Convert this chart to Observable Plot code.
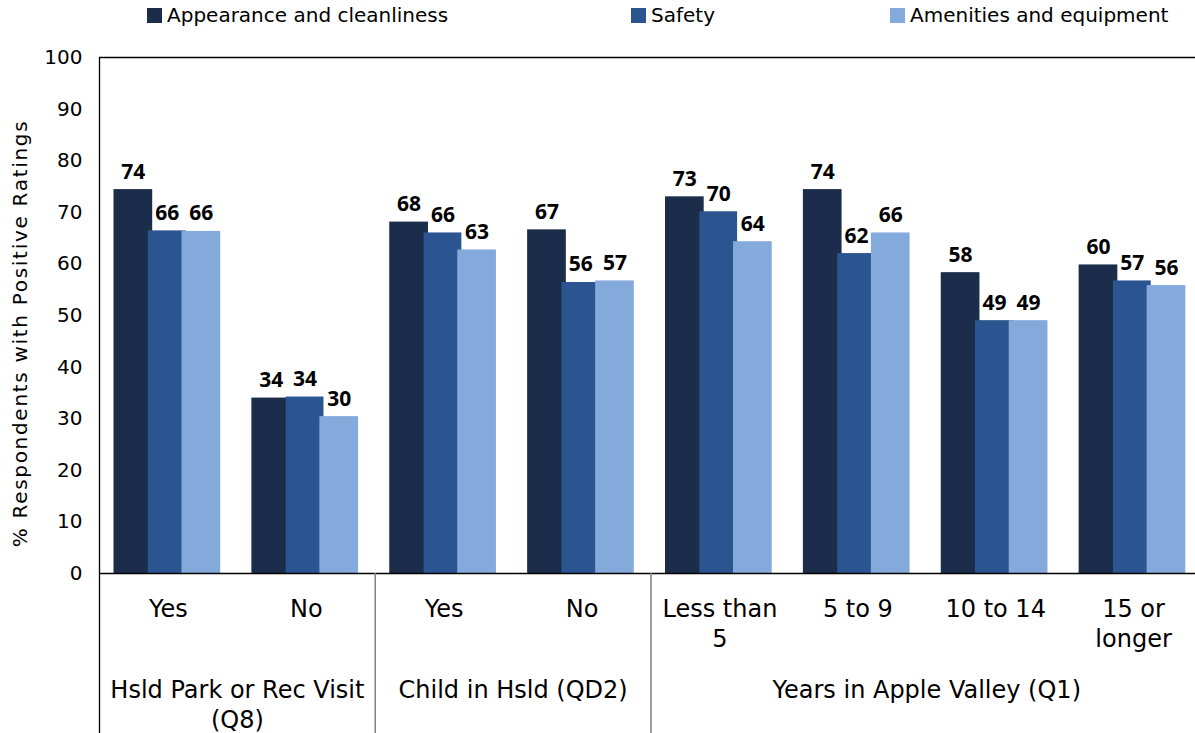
<!DOCTYPE html>
<html>
<head>
<meta charset="utf-8">
<script src="https://cdn.jsdelivr.net/npm/d3@7"></script>
<script src="https://cdn.jsdelivr.net/npm/@observablehq/plot@0.6"></script>
<style>
  html, body { margin: 0; padding: 0; background: #fff; }
  body { width: 1195px; height: 733px; overflow: hidden; }
  #legend { position: relative; height: 30px; font-family: "DejaVu Sans", sans-serif; font-size: 20px; color: #000; }
  #legend .item { position: absolute; top: 0; height: 30px; display: flex; align-items: center; white-space: nowrap; }
  #legend .sw { width: 15px; height: 15px; margin-right: 5px; }
  #chart { position: relative; width: 1195px; height: 703px; overflow: hidden; }
</style>
</head>
<body>
<div id="legend"></div>
<div id="chart"></div>
<script>
// ---- data ----
const categories = ["Yes", "No", "Yes", "No", "Less than\n5", "5 to 9", "10 to 14", "15 or\nlonger"];
const groups = ["Hsld Park or Rec Visit\n(Q8)", "Child in Hsld (QD2)", "Years in Apple Valley (Q1)"];
const groupSizes = [2, 2, 4];
const seriesNames = ["Appearance and cleanliness", "Safety", "Amenities and equipment"];
const appearance = [74.4, 34.0, 68.1, 66.6, 73.0, 74.4, 58.3, 59.8];
const safety     = [66.4, 34.2, 66.0, 56.4, 70.1, 62.0, 49.0, 56.7];
const amenities  = [66.3, 30.4, 62.7, 56.7, 64.3, 66.0, 49.0, 55.8];
const yTicks = [0, 10, 20, 30, 40, 50, 60, 70, 80, 90, 100];
const colors = ["#1b2d4a", "#2a5590", "#84aadc"];
const yTitle = "% Respondents with Positive Ratings";

// ---- layout ----
const W = 1202, H = 703, mT = 27, mB = 160, mL = 99, mR = 0;
const step = (W - mL - mR) / categories.length;
const plotH = H - mT - mB;
const barLeft = [14.5, 48.8, 82.5];
const barW = [38.7, 37.8, 38.7];

const seriesValues = [appearance, safety, amenities];
const idx = d3.range(categories.length);
const rows = seriesValues.flatMap((vals, k) => vals.map((v, i) => ({i, k, value: v})));

// legend
const legendLeft = [147, 631, 890];
const legend = document.getElementById("legend");
seriesNames.forEach((s, k) => {
  const it = document.createElement("div");
  it.className = "item";
  it.style.left = legendLeft[k] + "px";
  it.innerHTML = `<span class="sw" style="background:${colors[k]}"></span><span>${s}</span>`;
  legend.appendChild(it);
});

// groups
let start = 0;
const groupRows = groups.map((g, j) => {
  const r = {name: g, start, anchor: start + groupSizes[j] / 2};
  start += groupSizes[j];
  return r;
});

const marks = [];
seriesValues.forEach((vals, k) => {
  marks.push(Plot.barY(rows.filter(d => d.k === k), {
    x: "i", y: "value", fill: colors[k],
    insetLeft: barLeft[k], insetRight: step - barLeft[k] - barW[k]
  }));
});
seriesValues.forEach((vals, k) => {
  marks.push(Plot.text(rows.filter(d => d.k === k), {
    x: "i", y: "value", text: d => String(Math.round(d.value)),
    dx: barLeft[k] + barW[k] / 2 - step / 2, dy: -11,
    lineAnchor: "bottom", fontFamily: "Open Sans", fontWeight: "bold", fontSize: 21, fill: "#000"
  }));
});
// axis lines
marks.push(Plot.ruleY([0], {stroke: "#000", strokeWidth: 1.3}));
marks.push(Plot.ruleY([100], {stroke: "#000", strokeWidth: 1.3}));
marks.push(Plot.ruleX([0], {x: d => d, dx: -step / 2, insetBottom: -mB, stroke: "#000", strokeWidth: 1.3}));
marks.push(Plot.ruleX([categories.length - 1], {x: d => d, dx: step / 2, stroke: "#000", strokeWidth: 1.3}));
// group separators
marks.push(Plot.ruleX(groupRows.slice(1), {x: "start", dx: -step / 2, insetTop: plotH, insetBottom: -mB, stroke: "#808080", strokeWidth: 1.5}));
// category labels
marks.push(Plot.text(idx, {
  x: d => d, text: d => categories[d], frameAnchor: "bottom", lineAnchor: "top",
  dy: 22, lineHeight: 1.25, fontSize: 24, fontFamily: "DejaVu Sans", fill: "#000"
}));
// group labels
marks.push(Plot.text(groupRows, {
  x: "anchor", text: "name", dx: -step / 2, frameAnchor: "bottom", lineAnchor: "top",
  dy: 103, lineHeight: 1.25, fontSize: 24, fontFamily: "DejaVu Sans", fill: "#000"
}));
// y axis
marks.push(Plot.axisY({ticks: yTicks, tickSize: 0, tickPadding: 17, label: null, fontSize: 20, fontFamily: "DejaVu Sans", fill: "#000"}));
// y title
marks.push(Plot.text([yTitle], {
  text: d => d, frameAnchor: "left", textAnchor: "middle", rotate: -90, dx: -79, dy: 18,
  fontSize: 20, fontFamily: "DejaVu Sans", fill: "#000"
}));

const chart = Plot.plot({
  width: W, height: H,
  marginTop: mT, marginBottom: mB, marginLeft: mL, marginRight: mR,
  style: {maxWidth: "none", fontFamily: "DejaVu Sans", fontSize: "20px", background: "#fff", overflow: "visible"},
  x: {type: "band", domain: idx, padding: 0, round: false, axis: null},
  y: {domain: [0, 100], axis: null},
  marks
});
d3.select(chart).selectAll("text").filter(function() { return this.textContent === yTitle; })
  .style("letter-spacing", "1.7px");
document.getElementById("chart").appendChild(chart);
</script>
</body>
</html>
